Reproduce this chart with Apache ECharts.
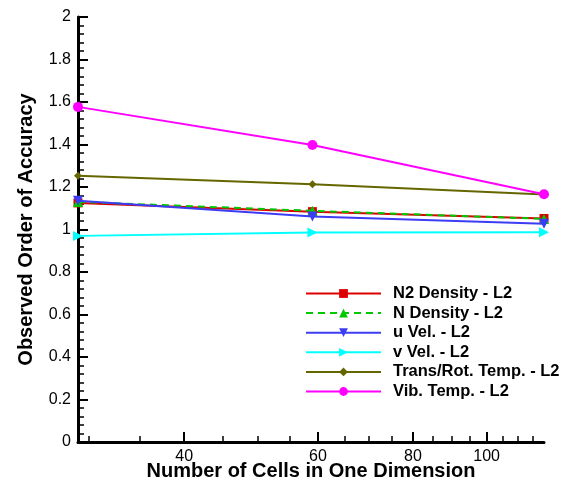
<!DOCTYPE html>
<html>
<head>
<meta charset="utf-8">
<script src="https://cdn.jsdelivr.net/npm/echarts@6/dist/echarts.min.js"></script>
<style>html,body{margin:0;padding:0;background:#fff}#c{width:565px;height:485px}</style>
</head>
<body>
<div id="c"></div>
<script>
var cells = [29, 59, 119];
var n2Density = [1.125, 1.084, 1.052];
var nDensity = [1.13, 1.088, 1.05];
var uVel = [1.135, 1.061, 1.027];
var vVel = [0.970, 0.986, 0.987];
var transRotTemp = [1.253, 1.213, 1.165];
var vibTemp = [1.577, 1.398, 1.166];
var xMajorTicks = [40, 60, 80, 100];
var xMinorTicks = [30, 35, 45, 50, 55, 65, 70, 75, 85, 90, 95, 105, 110, 115];
var seriesNames = ['N2 Density - L2', 'N Density - L2', 'u Vel. - L2', 'v Vel. - L2', 'Trans/Rot. Temp. - L2', 'Vib. Temp. - L2'];

var FONT = '"Liberation Sans", Arial, Helvetica, sans-serif';
function pairs(vals) { return cells.map(function (c, i) { return [c, vals[i]]; }); }

var defs = [
  { vals: n2Density, color: '#dd0000', symbol: 'rect', size: 9, type: 'solid' },
  { vals: nDensity, color: '#00c800', symbol: 'triangle', size: 10, type: [7, 5] },
  { vals: uVel, color: '#3c3cf5', symbol: 'path://M0,0 L10,0 L5,10 Z', size: 10, type: 'solid' },
  { vals: vVel, color: '#00ffff', symbol: 'path://M0,0 L10,5 L0,10 Z', size: 10, type: 'solid' },
  { vals: transRotTemp, color: '#666600', symbol: 'diamond', size: 8, type: 'solid' },
  { vals: vibTemp, color: '#ff00ff', symbol: 'circle', size: 10, type: 'solid' }
];

var series = defs.map(function (d, i) {
  return {
    name: seriesNames[i], type: 'line', xAxisIndex: 0, yAxisIndex: 0,
    data: pairs(d.vals), symbol: d.symbol, symbolSize: d.size, showSymbol: true,
    lineStyle: { color: d.color, width: 2, type: d.type },
    itemStyle: { color: d.color, borderWidth: 0 },
    emphasis: { disabled: true }, animation: false, z: 2 + i
  };
});

var chart = echarts.init(document.getElementById('c'), null, { renderer: 'canvas' });
chart.setOption({
  animation: false,
  backgroundColor: '#fff',
  grid: { left: 78, right: 21, top: 17, bottom: 43, containLabel: false, outerBoundsMode: 'none' },
  legend: {
    orient: 'vertical', left: 305, top: 285, padding: 0,
    itemWidth: 75, itemHeight: 11, itemGap: 2.6,
    textStyle: { fontFamily: FONT, fontWeight: 'bold', fontSize: 16.5, lineHeight: 17, color: '#000', padding: [0, 0, 0, 7] },
    data: seriesNames, selectedMode: false
  },
  xAxis: [{
    type: 'log', logBase: 10, min: 29, max: 119,
    name: 'Number of Cells in One Dimension', nameLocation: 'middle', nameGap: 19, nameMoveOverlap: false,
    nameTextStyle: { fontFamily: FONT, fontWeight: 'bold', fontSize: 20, color: '#000' },
    axisLine: { show: true, onZero: false, lineStyle: { color: '#000', width: 3 } },
    axisTick: { show: true, inside: true, length: 10, lineStyle: { color: '#000', width: 2 }, customValues: xMajorTicks },
    axisLabel: { show: true, margin: 7, fontFamily: FONT, fontSize: 16, color: '#000', customValues: xMajorTicks, formatter: function (v) { return String(Math.round(v)); } },
    splitLine: { show: false }, minorTick: { show: false }, minorSplitLine: { show: false }
  }, {
    type: 'log', logBase: 10, min: 29, max: 119, position: 'bottom',
    axisLine: { show: false },
    axisTick: { show: true, inside: true, length: 6, lineStyle: { color: '#000', width: 1.5 }, customValues: xMinorTicks },
    axisLabel: { show: false },
    splitLine: { show: false }
  }],
  yAxis: {
    type: 'value', min: 0, max: 2, interval: 0.2,
    name: 'Observed Order of Accuracy', nameLocation: 'middle', nameGap: 42, nameMoveOverlap: false,
    nameTextStyle: { fontFamily: FONT, fontWeight: 'bold', fontSize: 20, color: '#000' },
    axisLine: { show: true, lineStyle: { color: '#000', width: 3 } },
    axisTick: { show: true, inside: true, length: 10, lineStyle: { color: '#000', width: 2 } },
    minorTick: { show: true, splitNumber: 5, length: 6, lineStyle: { color: '#000', width: 1.5 } },
    axisLabel: { margin: 7, fontFamily: FONT, fontSize: 16, color: '#000', formatter: function (v) { return String(Math.round(v * 10) / 10); } },
    splitLine: { show: false }
  },
  series: series
});
</script>
</body>
</html>
